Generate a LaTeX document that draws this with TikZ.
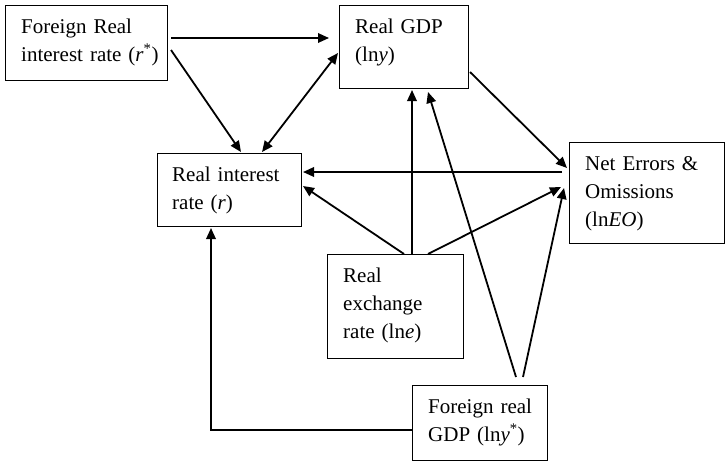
\documentclass[tikz,border=0pt]{standalone}
\usepackage{fontspec}
\setmainfont{Liberation Serif}
\usetikzlibrary{arrows.meta,calc}
\begin{document}
\begin{tikzpicture}[x=1pt,y=-1pt,
  box/.style={draw, line width=1.3pt, inner sep=0pt, anchor=north west},
  lbl/.style={inner sep=0pt, anchor=base west, align=left, text width=140pt,
    font=\fontsize{21}{28}\selectfont},
  arr/.style={line width=1.8pt, -{Triangle[length=11pt,width=9.5pt]}},
  darr/.style={line width=1.8pt, {Triangle[length=11pt,width=9.5pt]}-{Triangle[length=11pt,width=9.5pt]}}]
\useasboundingbox (0,0) rectangle (725,461);
% boxes
\node[box, minimum width=162pt, minimum height=75pt] (fr) at (5,5) {};
\node[box, minimum width=129pt, minimum height=83pt] (gdp) at (339,5) {};
\node[box, minimum width=144pt, minimum height=73pt] (ri) at (157,153) {};
\node[box, minimum width=155pt, minimum height=101pt] (neo) at (569,142) {};
\node[box, minimum width=136pt, minimum height=104pt] (ex) at (327,254) {};
\node[box, minimum width=135pt, minimum height=75pt] (fy) at (412,385) {};
% texts
\node[lbl] (frt) at ($(fr.north west)+(16,28)$) {Foreign Real\\interest rate (\textit{r}\textsuperscript{*})};
\node[lbl] (gdpt) at ($(gdp.north west)+(16,28)$) {Real GDP\\(ln\textit{y})};
\node[lbl] (rit) at ($(ri.north west)+(15,28)$) {Real interest\\rate (\textit{r})};
\node[lbl] (neot) at ($(neo.north west)+(16,28)$) {Net Errors \&\\Omissions\\(ln\textit{EO})};
\node[lbl] (ext) at ($(ex.north west)+(16,28)$) {Real\\exchange\\rate (ln\textit{e})};
\node[lbl] (fyt) at ($(fy.north west)+(16,28)$) {Foreign real\\GDP (ln\textit{y}\textsuperscript{*})};
% connectors
\draw[arr] ($(fr.north west)+(166,33)$) -- ($(gdp.north west)+(-10,33)$);
\draw[arr] ($(fr.north west)+(166,45)$) -- ($(ri.north west)+(84,-1)$);
\draw[darr] ($(gdp.north west)+(-1,48)$) -- ($(ri.north west)+(105,-1)$);
\draw[arr] ($(gdp.north west)+(131,67)$) -- ($(neo.north west)+(-2,26)$);
\draw[arr] ($(neo.north west)+(-7,30)$) -- ($(ri.north west)+(146,19)$);
\draw[arr] ($(ex.north west)+(77,0)$) -- ($(ri.north west)+(146,33)$);
\draw[arr] ($(ex.north west)+(85,0)$) -- ($(gdp.north west)+(73,85)$);
\draw[arr] ($(ex.north west)+(101,0)$) -- ($(neo.north west)+(-8,45)$);
\draw[arr] ($(fy.north west)+(104,-8)$) -- ($(gdp.north west)+(89,87)$);
\draw[arr] ($(fy.north west)+(111,-8)$) -- ($(neo.north west)+(-5,46)$);
\draw[arr] ($(fy.north west)+(0,45)$) -| ($(ri.north west)+(54,75)$);
\end{tikzpicture}
\end{document}
